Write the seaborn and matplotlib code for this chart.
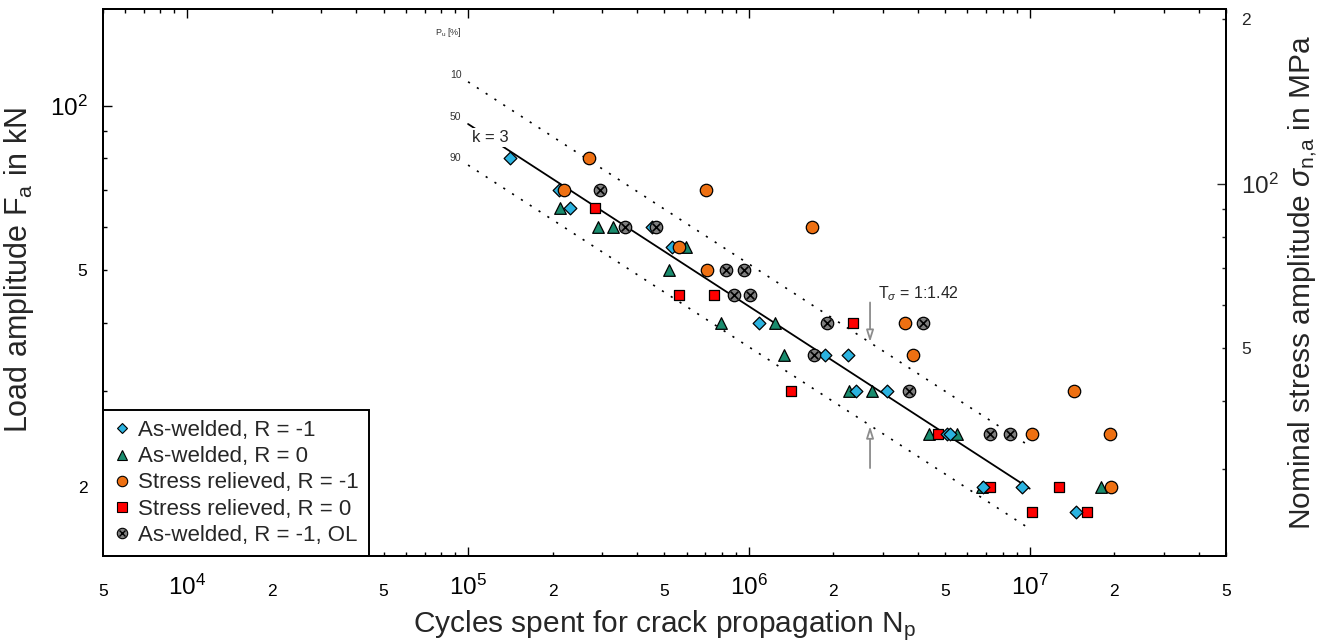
import numpy as np
import pandas as pd
import matplotlib
matplotlib.use("Agg")
import matplotlib.pyplot as plt
import seaborn as sns
from matplotlib.ticker import FixedLocator, FuncFormatter
from matplotlib.lines import Line2D
from matplotlib.legend_handler import HandlerTuple

# ---------------- data ----------------
aw_m1_N = [1.415e5, 2.10e5, 2.30e5, 4.52e5, 5.32e5, 1.088e6, 1.87e6, 2.26e6, 2.41e6, 3.11e6, 5.07e6, 5.21e6, 6.84e6, 9.41e6, 1.46e7]
aw_m1_F = [80, 70, 65, 60, 55, 40, 35, 35, 30, 30, 25, 25, 20, 20, 18]

aw_0_N = [2.13e5, 2.89e5, 3.27e5, 5.98e5, 5.19e5, 7.95e5, 1.24e6, 1.33e6, 2.28e6, 2.75e6, 4.38e6, 5.50e6, 6.74e6, 1.79e7]
aw_0_F = [65, 60, 60, 55, 50, 40, 40, 35, 30, 30, 25, 25, 20, 20]

sr_m1_N = [2.70e5, 2.19e5, 7.05e5, 1.68e6, 5.66e5, 7.11e5, 3.60e6, 3.85e6, 1.44e7, 1.016e7, 1.93e7, 1.94e7]
sr_m1_F = [80, 70, 70, 60, 55, 50, 40, 35, 30, 25, 25, 20]

sr_0_N = [2.82e5, 5.63e5, 7.51e5, 2.34e6, 1.41e6, 4.73e6, 7.22e6, 1.27e7, 1.016e7, 1.595e7]
sr_0_F = [65, 45, 45, 40, 30, 25, 20, 20, 18, 18]

ol_N = [2.94e5, 3.61e5, 4.67e5, 8.30e5, 9.62e5, 8.84e5, 1.005e6, 1.895e6, 4.18e6, 1.71e6, 3.73e6, 7.22e6, 8.51e6]
ol_F = [70, 60, 60, 50, 50, 45, 45, 40, 40, 35, 30, 25, 25]

# S-N scatter band (k = 3), endpoints
line_N = [1e5, 1e7]
line_F10 = [110.5, 23.8]
line_F50 = [92.5, 19.9]
line_F90 = [77.8, 16.8]

stress_factor = 1.39   # right axis = load * factor
arrow_N = 2.70e6
arrow_top_F = [43.6, 36.9]
arrow_bot_F = [21.7, 25.9]

labels = ["As-welded, R = -1", "As-welded, R = 0", "Stress relieved, R = -1",
          "Stress relieved, R = 0", "As-welded, R = -1, OL"]
colors = {"aw_m1": "#2BB3E0", "aw_0": "#1A8C6E", "sr_m1": "#EE7012",
          "sr_0": "#FF0000", "ol": "#7F7F7F"}

# ---------------- style ----------------
sns.set_style("ticks", {"xtick.direction": "in", "ytick.direction": "in"})
plt.rcParams["font.family"] = ["Liberation Sans", "DejaVu Sans"]
plt.rcParams["mathtext.fontset"] = "custom"
plt.rcParams["mathtext.rm"] = "Liberation Sans"
plt.rcParams["mathtext.it"] = "Liberation Sans:italic"
plt.rcParams["mathtext.bf"] = "Liberation Sans:bold"

fig = plt.figure(figsize=(13.27, 6.41), dpi=100)
ax = fig.add_axes([0.0774, 0.1331, 0.8465, 0.8524])
ax.set_xscale("log")
ax.set_yscale("log")
ax.set_xlim(5e3, 5e7)
ax.set_ylim(15, 150)

# lines
ls_dot = (0, (1.3, 5))
sns.lineplot(x=line_N, y=line_F10, ax=ax, color="black", lw=1.2, linestyle=ls_dot, zorder=2)
sns.lineplot(x=line_N, y=line_F90, ax=ax, color="black", lw=1.2, linestyle=ls_dot, zorder=2)
sns.lineplot(x=line_N, y=line_F50, ax=ax, color="black", lw=1.3, zorder=2)

# markers
ek = dict(edgecolor="black", linewidth=0.9, ax=ax, legend=False)
sns.scatterplot(x=aw_0_N, y=aw_0_F, marker="^", s=70, color=colors["aw_0"], zorder=3, **ek)
sns.scatterplot(x=sr_0_N, y=sr_0_F, marker="s", s=62, color=colors["sr_0"], zorder=4, **ek)
sns.scatterplot(x=aw_m1_N, y=aw_m1_F, marker="D", s=42, color=colors["aw_m1"], zorder=5, **ek)
sns.scatterplot(x=sr_m1_N, y=sr_m1_F, marker="o", s=80, color=colors["sr_m1"], zorder=6, **ek)
sns.scatterplot(x=ol_N, y=ol_F, marker="o", s=80, color=colors["ol"], zorder=7, **ek)
sns.scatterplot(x=ol_N, y=ol_F, marker="x", s=30, color="black", linewidth=1.2, ax=ax,
                legend=False, zorder=8)

# annotations
ax.text(1.03e5, 87.5, "k = 3", fontsize=12, ha="left", va="center", zorder=2.5,
        bbox=dict(facecolor="white", edgecolor="none", pad=1.5))
ax.text(9.5e4, 136, r"P$_{\rm u}$ [%]", fontsize=6.5, ha="right", va="center", color="#333333")
for F, lab in zip([line_F10[0], line_F50[0], line_F90[0]], ["10", "50", "90"]):
    ax.annotate(lab, xy=(line_N[0], F), xytext=(-4.7, 5), textcoords="offset points",
                fontsize=7.5, ha="right", va="center", color="#333333")
ax.text(2.88e6, 45.2, r"T$_{\sigma}$ = 1:1.42", fontsize=11.5, ha="left", va="center")
arrowkw = dict(arrowstyle="-|>,head_length=0.7,head_width=0.22", color="#8C8C8C",
               lw=1.3, fc="white", shrinkA=0, shrinkB=0)
ax.annotate("", xy=(arrow_N, arrow_top_F[1]), xytext=(arrow_N, arrow_top_F[0]), arrowprops=arrowkw)
ax.annotate("", xy=(arrow_N, arrow_bot_F[1]), xytext=(arrow_N, arrow_bot_F[0]), arrowprops=arrowkw)

# ---------------- ticks ----------------
def dec_fmt(v, pos=None):
    return r"$10^{%d}$" % int(round(np.log10(v)))

def minor_fmt(v, pos=None):
    m = v / 10 ** np.floor(np.log10(v) + 1e-9)
    m = int(round(m))
    return str(m) if m in (2, 5) else ""

x_major = [1e4, 1e5, 1e6, 1e7]
x_minor = [m * 10 ** e for e in range(3, 8) for m in range(2, 10) if 5e3 <= m * 10 ** e <= 5e7]
ax.xaxis.set_major_locator(FixedLocator(x_major))
ax.xaxis.set_minor_locator(FixedLocator(x_minor))
ax.xaxis.set_major_formatter(FuncFormatter(dec_fmt))
ax.xaxis.set_minor_formatter(FuncFormatter(minor_fmt))

y_major = [100]
y_minor = [20, 30, 40, 50, 60, 70, 80, 90]
ax.yaxis.set_major_locator(FixedLocator(y_major))
ax.yaxis.set_minor_locator(FixedLocator(y_minor))
ax.yaxis.set_major_formatter(FuncFormatter(dec_fmt))
ax.yaxis.set_minor_formatter(FuncFormatter(minor_fmt))

ax.tick_params(which="both", direction="in", top=True, right=False, width=1, colors="black")
ax.tick_params(which="major", length=6.5, labelsize=17.5)
ax.tick_params(which="minor", length=3, labelsize=12.5)
ax.tick_params(axis="x", which="major", pad=14)
ax.tick_params(axis="x", which="minor", pad=20.5)
ax.tick_params(axis="y", which="both", pad=11)

ax2 = ax.twinx()
ax2.set_yscale("log")
ax2.set_ylim(15 * stress_factor, 150 * stress_factor)
ax2.yaxis.set_major_locator(FixedLocator([100]))
ax2.yaxis.set_minor_locator(FixedLocator([30, 40, 50, 60, 70, 80, 90, 200]))
ax2.yaxis.set_major_formatter(FuncFormatter(dec_fmt))
ax2.yaxis.set_minor_formatter(FuncFormatter(minor_fmt))
ax2.tick_params(which="both", direction="in", width=1, pad=11)
ax2.tick_params(which="major", length=6.5, labelsize=17.5)
ax2.tick_params(which="minor", length=3, labelsize=12.5)

for a in (ax, ax2):
    for sp in a.spines.values():
        sp.set_visible(True)
        sp.set_linewidth(1.4)
        sp.set_color("black")

ax.set_xlabel(r"Cycles spent for crack propagation N$_{\rm p}$", fontsize=21.5)
ax.set_ylabel(r"Load amplitude F$_{\rm a}$ in kN", fontsize=22)
ax2.set_ylabel(r"Nominal stress amplitude $\sigma_{\rm n{,}a}$ in MPa", fontsize=21.5)
ax.xaxis.set_label_coords(0.5, -0.096)
ax.yaxis.set_label_coords(-0.059, 0.523)
ax2.yaxis.set_label_coords(1.053, 0.5)

# ---------------- legend ----------------
def mk(marker, color, ms):
    return Line2D([], [], linestyle="none", marker=marker, markersize=ms,
                  markerfacecolor=color, markeredgecolor="black", markeredgewidth=0.8)

handles = [
    mk("D", colors["aw_m1"], 5.5),
    mk("^", colors["aw_0"], 7.5),
    mk("o", colors["sr_m1"], 7.5),
    mk("s", colors["sr_0"], 7),
    (mk("o", colors["ol"], 7.5),
     Line2D([], [], linestyle="none", marker="x", markersize=4.2, markeredgecolor="black",
            markeredgewidth=1.0)),
]
leg = ax.legend(handles, labels, loc="lower left", bbox_to_anchor=(0, 0), borderaxespad=0,
                fontsize=16, frameon=True, fancybox=False, edgecolor="black",
                framealpha=1, handlelength=0.8, handletextpad=0.35, labelspacing=0.23,
                borderpad=0.45, handler_map={tuple: HandlerTuple(ndivide=1)})
leg.get_frame().set_linewidth(1.4)
leg.set_zorder(20)

fig.savefig("out.png", dpi=100)
